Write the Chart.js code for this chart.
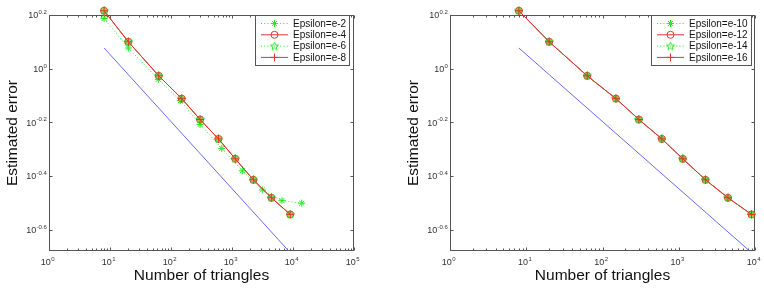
<!DOCTYPE html>
<html><head><meta charset="utf-8">
<script src="https://cdn.jsdelivr.net/npm/chart.js@4.4.0/dist/chart.umd.min.js"></script>
<style>
html,body{margin:0;padding:0;background:#fff;}
#wrap{position:relative;width:764px;height:289px;overflow:hidden;}
.c{position:absolute;top:0;width:382px;height:289px;}
canvas{display:block;}
</style></head><body>
<div id="wrap">
<div class="c" style="left:0"><canvas id="c1" width="382" height="289"></canvas></div>
<div class="c" style="left:382px"><canvas id="c2" width="382" height="289"></canvas></div>
</div>
<script>
// ---------- data ----------
const trianglesLeft  = [8, 20, 63, 150, 300, 600, 1130, 2240, 4420, 9000];
const trianglesE2    = [8, 20, 62, 142, 300, 680, 1480, 3150, 6600, 13900];
const errorE2  = [1.538, 1.194, 0.912, 0.760, 0.619, 0.504, 0.416, 0.353, 0.322, 0.315];
const errorE4  = [1.644, 1.259, 0.940, 0.773, 0.646, 0.547, 0.461, 0.385, 0.330, 0.286];
const errorE6  = [1.644, 1.259, 0.940, 0.773, 0.646, 0.547, 0.461, 0.385, 0.330, 0.286];
const errorE8  = [1.644, 1.259, 0.940, 0.773, 0.646, 0.547, 0.461, 0.385, 0.330, 0.286];

const trianglesRight = [8, 20, 63, 150, 300, 600, 1130, 2240, 4420, 9000];
const errorE10 = [1.644, 1.259, 0.940, 0.773, 0.646, 0.547, 0.461, 0.385, 0.330, 0.286];
const errorE12 = [1.644, 1.259, 0.940, 0.773, 0.646, 0.547, 0.461, 0.385, 0.330, 0.286];
const errorE14 = [1.644, 1.259, 0.940, 0.773, 0.646, 0.547, 0.461, 0.385, 0.330, 0.286];
const errorE16 = [1.644, 1.259, 0.940, 0.773, 0.646, 0.547, 0.461, 0.385, 0.330, 0.286];

const refTriangles = [8, 9000];
const refErrorLeft  = [1.194, 0.206];
const refErrorRight = [1.194, 0.206];

const labelsLeft  = ['Epsilon=e-2', 'Epsilon=e-4', 'Epsilon=e-6', 'Epsilon=e-8'];
const labelsRight = ['Epsilon=e-10', 'Epsilon=e-12', 'Epsilon=e-14', 'Epsilon=e-16'];

// tick labels (exponents of 10)
const xTickExpLeft  = ['0', '1', '2', '3', '4', '5'];
const xTickExpRight = ['0', '1', '2', '3', '4'];
const yTickExp = ['0.2', '0', '-0.2', '-0.4', '-0.6'];
const yMinExp = -0.68, yMaxExp = 0.2;

const xTitle = 'Number of triangles';
const yTitle = 'Estimated error';

// ---------- styles ----------
const GREEN = '#22ee22', RED = '#e03535', BLUE = '#5a5af0';
const FONT = '"Liberation Sans", Arial, Helvetica, sans-serif';

function pentagram(color) {
  const c = document.createElement('canvas');
  c.width = 9; c.height = 9;
  const g = c.getContext('2d');
  g.strokeStyle = color; g.lineWidth = 1;
  g.beginPath();
  for (let i = 0; i < 10; i++) {
    const r = i % 2 === 0 ? 4.2 : 1.8;
    const a = -Math.PI / 2 + i * Math.PI / 5;
    const px = 4.5 + r * Math.cos(a), py = 4.7 + r * Math.sin(a);
    i === 0 ? g.moveTo(px, py) : g.lineTo(px, py);
  }
  g.closePath(); g.stroke();
  return c;
}
const starImg = pentagram(GREEN);

function pts(xs, ys) { return xs.map((v, i) => ({x: v, y: ys[i]})); }

function seriesSets(labels, xs, ys) {
  const styles = [
    {color: GREEN, dash: [1, 2.2], point: 'star', r: 3.5, fill: 'rgba(0,0,0,0)'},
    {color: RED, dash: [], point: 'circle', r: 3.5, fill: 'rgba(225,140,60,0.45)'},
    {color: GREEN, dash: [1, 2.2], point: starImg, r: 4, fill: 'rgba(0,0,0,0)'},
    {color: RED, dash: [], point: 'cross', r: 4, fill: 'rgba(0,0,0,0)'}
  ];
  return labels.map((lab, i) => ({
    label: lab,
    data: pts(xs[i], ys[i]),
    borderColor: styles[i].color,
    backgroundColor: 'rgba(0,0,0,0)',
    borderWidth: 1,
    borderDash: styles[i].dash,
    pointStyle: styles[i].point,
    pointRadius: styles[i].r,
    pointBorderColor: styles[i].color,
    pointBorderWidth: 1,
    pointBackgroundColor: styles[i].fill,
    tension: 0,
    clip: false,
    order: 10 - i,
    showLine: true
  }));
}

const axesPlugin = {
  id: 'matlabAxes',
  beforeDatasetsDraw(chart, args, o) {
    const {ctx, chartArea: ca, scales: {x, y}} = chart;
    ctx.save();
    ctx.strokeStyle = '#555'; ctx.lineWidth = 1;
    const L = Math.round(ca.left) + 0.5, R = Math.round(ca.right) - 0.5;
    const T = Math.round(ca.top) + 0.5, B = Math.round(ca.bottom) - 0.5;
    ctx.strokeRect(L, T, R - L, B - T);
    ctx.beginPath();
    const exps = o.xExp.map(Number);
    exps.forEach((e, idx) => {
      const xp = Math.round(x.getPixelForValue(Math.pow(10, e))) + 0.5;
      ctx.moveTo(xp, B); ctx.lineTo(xp, B - 3);
      ctx.moveTo(xp, T); ctx.lineTo(xp, T + 3);
      if (idx < exps.length - 1) {
        for (let m = 2; m <= 9; m++) {
          const mp = Math.round(x.getPixelForValue(m * Math.pow(10, e))) + 0.5;
          ctx.moveTo(mp, B); ctx.lineTo(mp, B - 2);
          ctx.moveTo(mp, T); ctx.lineTo(mp, T + 2);
        }
      }
    });
    o.yExp.forEach(e => {
      const yp = Math.round(y.getPixelForValue(Math.pow(10, Number(e)))) + 0.5;
      ctx.moveTo(L, yp); ctx.lineTo(L + 3, yp);
      ctx.moveTo(R, yp); ctx.lineTo(R - 3, yp);
    });
    ctx.stroke();

    ctx.fillStyle = '#333';
    ctx.textBaseline = 'alphabetic';
    ctx.textAlign = 'left';
    const big = '9px ' + FONT, sm = '6px ' + FONT;
    o.xExp.forEach(e => {
      const xp = x.getPixelForValue(Math.pow(10, Number(e)));
      ctx.font = big; const w1 = ctx.measureText('10').width;
      ctx.font = sm; const w2 = ctx.measureText(e).width;
      const sx = xp - (w1 + w2) / 2 - 1.5;
      ctx.font = big; ctx.fillText('10', sx, ca.bottom + 14);
      ctx.font = sm; ctx.fillText(e, sx + w1 + 0.3, ca.bottom + 9.5);
    });
    o.yExp.forEach(e => {
      const yp = y.getPixelForValue(Math.pow(10, Number(e)));
      ctx.font = big; const w1 = ctx.measureText('10').width;
      ctx.font = sm; const w2 = ctx.measureText(e).width;
      const sx = ca.left - 2.5 - (w1 + w2);
      ctx.font = big; ctx.fillText('10', sx, yp + 3.3);
      ctx.font = sm; ctx.fillText(e, sx + w1 + 0.3, yp - 1);
    });
    ctx.restore();
  },
  afterDraw(chart, args, o) {
    const {ctx, chartArea: ca} = chart;
    const sets = chart.data.datasets.filter(d => d.label);
    ctx.save();
    ctx.font = '10px ' + FONT;
    let tw = 0;
    sets.forEach(d => tw = Math.max(tw, ctx.measureText(d.label).width));
    const w = Math.round(38 + tw + 3);
    const right = Math.round(ca.right - o.legendRight);
    const left = right - w;
    const top = Math.round(ca.top), h = 50;
    ctx.fillStyle = '#fff';
    ctx.fillRect(left + 0.5, top + 0.5, w, h);
    ctx.strokeStyle = '#555'; ctx.lineWidth = 1;
    ctx.strokeRect(left + 0.5, top + 0.5, w, h);
    sets.forEach((d, i) => {
      const yy = top + 8.5 + i * 11.3;
      ctx.save();
      ctx.strokeStyle = d.borderColor; ctx.lineWidth = d.borderWidth;
      ctx.setLineDash(d.borderDash || []);
      ctx.beginPath(); ctx.moveTo(left + 6, yy); ctx.lineTo(left + 33, yy); ctx.stroke();
      ctx.setLineDash([]);
      ctx.strokeStyle = d.pointBorderColor; ctx.fillStyle = 'rgba(0,0,0,0)';
      Chart.helpers.drawPoint(ctx, {pointStyle: d.pointStyle, rotation: 0, radius: d.pointRadius, borderWidth: 1}, left + 19.5, yy);
      ctx.restore();
      ctx.fillStyle = '#111'; ctx.textBaseline = 'middle'; ctx.textAlign = 'left';
      ctx.fillText(d.label, left + 38, yy + 0.5);
    });
    ctx.restore();
  }
};

function makeChart(id, opt) {
  const datasets = seriesSets(opt.labels, opt.xs, opt.ys);
  datasets.push({
    label: '',
    data: pts(refTriangles, opt.ref),
    borderColor: BLUE, borderWidth: 0.9, pointRadius: 0,
    backgroundColor: 'rgba(0,0,0,0)', tension: 0, order: 0, showLine: true
  });
  return new Chart(document.getElementById(id), {
    type: 'line',
    data: {datasets},
    options: {
      responsive: false, animation: false, events: [],
      devicePixelRatio: 1,
      layout: {padding: {left: 0, right: opt.padRight, top: 15, bottom: 0}},
      plugins: {
        legend: {display: false}, tooltip: {enabled: false},
        matlabAxes: {xExp: opt.xExp, yExp: yTickExp, legendRight: opt.legendRight}
      },
      scales: {
        x: {
          type: 'logarithmic', min: 1, max: Math.pow(10, Number(opt.xExp[opt.xExp.length - 1])),
          grid: {display: false}, border: {display: false}, ticks: {display: false},
          title: {display: true, text: xTitle, color: '#111', font: {family: FONT, size: 15.5}, padding: {top: 0, bottom: 3.7}},
          afterFit: s => { s.height = 38; }
        },
        y: {
          type: 'logarithmic', min: Math.pow(10, yMinExp), max: Math.pow(10, yMaxExp),
          grid: {display: false}, border: {display: false}, ticks: {display: false},
          title: {display: true, text: yTitle, color: '#111', font: {family: FONT, size: 15.5}, padding: {top: opt.yTitlePad, bottom: 0}},
          afterFit: s => { s.width = opt.yWidth; }
        }
      }
    },
    plugins: [axesPlugin]
  });
}

makeChart('c1', {
  labels: labelsLeft,
  xs: [trianglesE2, trianglesLeft, trianglesLeft, trianglesLeft],
  ys: [errorE2, errorE4, errorE6, errorE8],
  ref: refErrorLeft, xExp: xTickExpLeft,
  yWidth: 49, padRight: 28, yTitlePad: 3.4, legendRight: 5
});
makeChart('c2', {
  labels: labelsRight,
  xs: [trianglesRight, trianglesRight, trianglesRight, trianglesRight],
  ys: [errorE10, errorE12, errorE14, errorE16],
  ref: refErrorRight, xExp: xTickExpRight,
  yWidth: 68, padRight: 9, yTitlePad: 22.4, legendRight: 4
});
</script>
</body></html>
